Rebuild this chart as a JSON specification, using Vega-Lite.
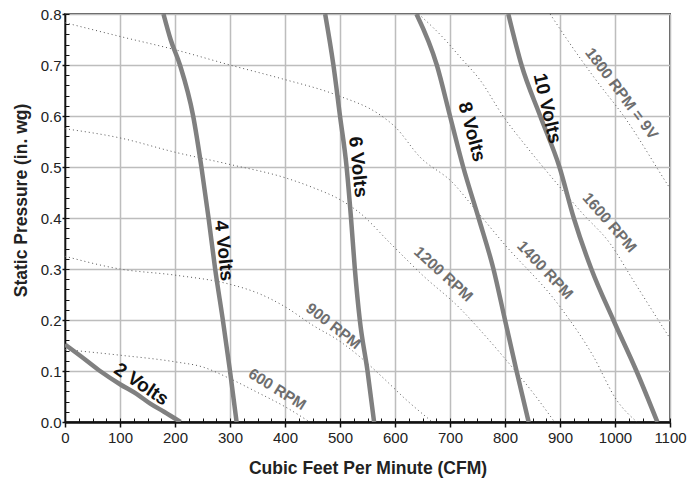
{
  "$schema": "https://vega.github.io/schema/vega-lite/v6.json",
  "width": 605,
  "height": 408,
  "autosize": {"type": "none"},
  "padding": {"left": 65, "top": 14, "right": 29, "bottom": 57},
  "background": "white",
  "config": {"view": {"stroke": "#555555", "strokeWidth": 2}, "font": "Liberation Sans"},
  "datasets": {
    "curves": [
      {"series": "2V", "kind": "volts", "x": 0, "y": 0.152},
      {"series": "2V", "kind": "volts", "x": 30, "y": 0.128},
      {"series": "2V", "kind": "volts", "x": 65, "y": 0.099},
      {"series": "2V", "kind": "volts", "x": 100, "y": 0.074},
      {"series": "2V", "kind": "volts", "x": 130, "y": 0.055},
      {"series": "2V", "kind": "volts", "x": 155, "y": 0.036},
      {"series": "2V", "kind": "volts", "x": 180, "y": 0.02},
      {"series": "2V", "kind": "volts", "x": 210, "y": 0},
      {"series": "4V", "kind": "volts", "x": 179, "y": 0.8},
      {"series": "4V", "kind": "volts", "x": 192, "y": 0.75},
      {"series": "4V", "kind": "volts", "x": 209, "y": 0.7},
      {"series": "4V", "kind": "volts", "x": 233, "y": 0.6},
      {"series": "4V", "kind": "volts", "x": 248, "y": 0.5},
      {"series": "4V", "kind": "volts", "x": 261, "y": 0.4},
      {"series": "4V", "kind": "volts", "x": 273, "y": 0.3},
      {"series": "4V", "kind": "volts", "x": 287, "y": 0.2},
      {"series": "4V", "kind": "volts", "x": 300, "y": 0.1},
      {"series": "4V", "kind": "volts", "x": 312, "y": 0},
      {"series": "6V", "kind": "volts", "x": 473, "y": 0.8},
      {"series": "6V", "kind": "volts", "x": 488, "y": 0.7},
      {"series": "6V", "kind": "volts", "x": 500, "y": 0.6},
      {"series": "6V", "kind": "volts", "x": 512, "y": 0.5},
      {"series": "6V", "kind": "volts", "x": 520, "y": 0.4},
      {"series": "6V", "kind": "volts", "x": 527, "y": 0.3},
      {"series": "6V", "kind": "volts", "x": 536, "y": 0.2},
      {"series": "6V", "kind": "volts", "x": 550, "y": 0.1},
      {"series": "6V", "kind": "volts", "x": 562, "y": 0},
      {"series": "8V", "kind": "volts", "x": 639, "y": 0.8},
      {"series": "8V", "kind": "volts", "x": 676, "y": 0.7},
      {"series": "8V", "kind": "volts", "x": 700, "y": 0.6},
      {"series": "8V", "kind": "volts", "x": 724, "y": 0.5},
      {"series": "8V", "kind": "volts", "x": 752, "y": 0.4},
      {"series": "8V", "kind": "volts", "x": 779, "y": 0.3},
      {"series": "8V", "kind": "volts", "x": 800, "y": 0.2},
      {"series": "8V", "kind": "volts", "x": 821, "y": 0.1},
      {"series": "8V", "kind": "volts", "x": 843, "y": 0},
      {"series": "10V", "kind": "volts", "x": 806, "y": 0.8},
      {"series": "10V", "kind": "volts", "x": 830, "y": 0.7},
      {"series": "10V", "kind": "volts", "x": 864, "y": 0.6},
      {"series": "10V", "kind": "volts", "x": 899, "y": 0.5},
      {"series": "10V", "kind": "volts", "x": 925, "y": 0.4},
      {"series": "10V", "kind": "volts", "x": 957, "y": 0.3},
      {"series": "10V", "kind": "volts", "x": 997, "y": 0.2},
      {"series": "10V", "kind": "volts", "x": 1039, "y": 0.1},
      {"series": "10V", "kind": "volts", "x": 1077, "y": 0},
      {"series": "600", "kind": "rpm", "x": 0, "y": 0.142},
      {"series": "600", "kind": "rpm", "x": 100, "y": 0.131},
      {"series": "600", "kind": "rpm", "x": 200, "y": 0.118},
      {"series": "600", "kind": "rpm", "x": 250, "y": 0.108},
      {"series": "600", "kind": "rpm", "x": 300, "y": 0.085},
      {"series": "600", "kind": "rpm", "x": 350, "y": 0.058},
      {"series": "600", "kind": "rpm", "x": 400, "y": 0.03},
      {"series": "600", "kind": "rpm", "x": 445, "y": 0},
      {"series": "900", "kind": "rpm", "x": 0, "y": 0.325},
      {"series": "900", "kind": "rpm", "x": 100, "y": 0.3},
      {"series": "900", "kind": "rpm", "x": 200, "y": 0.288},
      {"series": "900", "kind": "rpm", "x": 300, "y": 0.27},
      {"series": "900", "kind": "rpm", "x": 350, "y": 0.253},
      {"series": "900", "kind": "rpm", "x": 400, "y": 0.226},
      {"series": "900", "kind": "rpm", "x": 450, "y": 0.19},
      {"series": "900", "kind": "rpm", "x": 500, "y": 0.158},
      {"series": "900", "kind": "rpm", "x": 536, "y": 0.128},
      {"series": "900", "kind": "rpm", "x": 580, "y": 0.085},
      {"series": "900", "kind": "rpm", "x": 621, "y": 0.043},
      {"series": "900", "kind": "rpm", "x": 668, "y": 0},
      {"series": "1200", "kind": "rpm", "x": 0, "y": 0.575},
      {"series": "1200", "kind": "rpm", "x": 100, "y": 0.557},
      {"series": "1200", "kind": "rpm", "x": 200, "y": 0.529},
      {"series": "1200", "kind": "rpm", "x": 300, "y": 0.505},
      {"series": "1200", "kind": "rpm", "x": 400, "y": 0.479},
      {"series": "1200", "kind": "rpm", "x": 450, "y": 0.46},
      {"series": "1200", "kind": "rpm", "x": 500, "y": 0.436},
      {"series": "1200", "kind": "rpm", "x": 536, "y": 0.41},
      {"series": "1200", "kind": "rpm", "x": 591, "y": 0.351},
      {"series": "1200", "kind": "rpm", "x": 650, "y": 0.288},
      {"series": "1200", "kind": "rpm", "x": 718, "y": 0.223},
      {"series": "1200", "kind": "rpm", "x": 755, "y": 0.18},
      {"series": "1200", "kind": "rpm", "x": 797, "y": 0.128},
      {"series": "1200", "kind": "rpm", "x": 861, "y": 0.043},
      {"series": "1200", "kind": "rpm", "x": 890, "y": 0},
      {"series": "1400", "kind": "rpm", "x": 0, "y": 0.783},
      {"series": "1400", "kind": "rpm", "x": 100, "y": 0.756},
      {"series": "1400", "kind": "rpm", "x": 200, "y": 0.73},
      {"series": "1400", "kind": "rpm", "x": 300, "y": 0.7},
      {"series": "1400", "kind": "rpm", "x": 391, "y": 0.674},
      {"series": "1400", "kind": "rpm", "x": 494, "y": 0.641},
      {"series": "1400", "kind": "rpm", "x": 573, "y": 0.602},
      {"series": "1400", "kind": "rpm", "x": 600, "y": 0.579},
      {"series": "1400", "kind": "rpm", "x": 645, "y": 0.52},
      {"series": "1400", "kind": "rpm", "x": 706, "y": 0.468},
      {"series": "1400", "kind": "rpm", "x": 736, "y": 0.43},
      {"series": "1400", "kind": "rpm", "x": 797, "y": 0.351},
      {"series": "1400", "kind": "rpm", "x": 900, "y": 0.226},
      {"series": "1400", "kind": "rpm", "x": 960, "y": 0.13},
      {"series": "1400", "kind": "rpm", "x": 1003, "y": 0.043},
      {"series": "1400", "kind": "rpm", "x": 1040, "y": 0},
      {"series": "1600", "kind": "rpm", "x": 643, "y": 0.8},
      {"series": "1600", "kind": "rpm", "x": 694, "y": 0.746},
      {"series": "1600", "kind": "rpm", "x": 718, "y": 0.716},
      {"series": "1600", "kind": "rpm", "x": 755, "y": 0.67},
      {"series": "1600", "kind": "rpm", "x": 797, "y": 0.599},
      {"series": "1600", "kind": "rpm", "x": 839, "y": 0.54},
      {"series": "1600", "kind": "rpm", "x": 894, "y": 0.468},
      {"series": "1600", "kind": "rpm", "x": 940, "y": 0.41},
      {"series": "1600", "kind": "rpm", "x": 991, "y": 0.35},
      {"series": "1600", "kind": "rpm", "x": 1033, "y": 0.278},
      {"series": "1600", "kind": "rpm", "x": 1094, "y": 0.174},
      {"series": "1600", "kind": "rpm", "x": 1100, "y": 0.164},
      {"series": "1800", "kind": "rpm", "x": 882, "y": 0.8},
      {"series": "1800", "kind": "rpm", "x": 918, "y": 0.742},
      {"series": "1800", "kind": "rpm", "x": 961, "y": 0.677},
      {"series": "1800", "kind": "rpm", "x": 1021, "y": 0.592},
      {"series": "1800", "kind": "rpm", "x": 1094, "y": 0.468},
      {"series": "1800", "kind": "rpm", "x": 1100, "y": 0.458}
    ],
    "labels": [
      {"label": "2 Volts", "kind": "volts", "x": 139, "y": 0.074},
      {"label": "4 Volts", "kind": "volts", "x": 289, "y": 0.336},
      {"label": "6 Volts", "kind": "volts", "x": 533, "y": 0.5},
      {"label": "8 Volts", "kind": "volts", "x": 740, "y": 0.569},
      {"label": "10 Volts", "kind": "volts", "x": 877, "y": 0.615},
      {"label": "600 RPM", "kind": "rpm", "x": 386, "y": 0.064},
      {"label": "900 RPM", "kind": "rpm", "x": 488, "y": 0.188},
      {"label": "1200 RPM", "kind": "rpm", "x": 688, "y": 0.29},
      {"label": "1400 RPM", "kind": "rpm", "x": 873, "y": 0.298},
      {"label": "1600 RPM", "kind": "rpm", "x": 990, "y": 0.391},
      {"label": "1800 RPM = 9V", "kind": "rpm", "x": 1012, "y": 0.644}
    ]
  },
  "resolve": {"axis": {"x": "independent", "y": "independent"}},
  "layer": [
    {
      "data": {"name": "curves"},
      "transform": [{"filter": "datum.kind == 'rpm'"}],
      "mark": {"type": "line", "color": "#555555", "strokeWidth": 1, "strokeDash": [1, 3], "interpolate": "monotone", "clip": true},
      "encoding": {
        "x": {"field": "x", "type": "quantitative", "scale": {"domain": [0, 1100], "nice": false},
          "axis": {"orient": "bottom", "values": [0, 100, 200, 300, 400, 500, 600, 700, 800, 900, 1000, 1100], "format": "d",
            "title": "Cubic Feet Per Minute (CFM)", "grid": true, "gridColor": "#bdbdbd", "gridWidth": 1.5, "gridOpacity": 1,
            "domainColor": "#111111", "domainWidth": 2.5, "tickColor": "#111111", "tickSize": 5, "tickWidth": 1.5,
            "labelFontSize": 15, "labelColor": "#222222", "labelPadding": 3, "labelFlush": false, "labelFont": "Liberation Sans",
            "titleFont": "Liberation Sans", "titleFontSize": 17.5, "titleFontWeight": "bold", "titleColor": "#222222", "titlePadding": 14}},
        "y": {"field": "y", "type": "quantitative", "scale": {"domain": [0, 0.8], "nice": false},
          "axis": {"orient": "left", "values": [0, 0.1, 0.2, 0.3, 0.4, 0.5, 0.6, 0.7, 0.8], "format": ".1f",
            "title": "Static Pressure (in. wg)", "grid": true, "gridColor": "#bdbdbd", "gridWidth": 1.5, "gridOpacity": 1,
            "domainColor": "#111111", "domainWidth": 1.5, "tickColor": "#111111", "tickSize": 3, "tickWidth": 1.5,
            "labelFontSize": 15, "labelColor": "#222222", "labelPadding": 1, "labelFlush": false, "labelFont": "Liberation Sans",
            "titleFont": "Liberation Sans", "titleFontSize": 17.5, "titleFontWeight": "bold", "titleColor": "#222222", "titlePadding": 10,
            "titleY": 186}},
        "detail": {"field": "series"}
      }
    },
    {
      "data": {"name": "curves"},
      "transform": [{"filter": "datum.kind == 'volts'"}],
      "mark": {"type": "line", "color": "#808080", "strokeWidth": 4.5, "interpolate": "monotone", "clip": true},
      "encoding": {
        "x": {"field": "x", "type": "quantitative", "scale": {"domain": [0, 1100], "nice": false},
          "axis": {"orient": "bottom", "values": [0, 25, 50, 75, 100, 125, 150, 175, 200, 225, 250, 275, 300, 325, 350, 375, 400, 425, 450, 475, 500, 525, 550, 575, 600, 625, 650, 675, 700, 725, 750, 775, 800, 825, 850, 875, 900, 925, 950, 975, 1000, 1025, 1050, 1075, 1100],
            "labels": false, "domain": false, "grid": false, "title": null, "tickColor": "#111111", "tickSize": -4, "tickWidth": 1}},
        "y": {"field": "y", "type": "quantitative", "scale": {"domain": [0, 0.8], "nice": false},
          "axis": {"orient": "left", "values": [0, 0.02, 0.04, 0.06, 0.08, 0.1, 0.12, 0.14, 0.16, 0.18, 0.2, 0.22, 0.24, 0.26, 0.28, 0.3, 0.32, 0.34, 0.36, 0.38, 0.4, 0.42, 0.44, 0.46, 0.48, 0.5, 0.52, 0.54, 0.56, 0.58, 0.6, 0.62, 0.64, 0.66, 0.68, 0.7, 0.72, 0.74, 0.76, 0.78, 0.8],
            "labels": false, "domain": false, "grid": false, "title": null, "tickColor": "#111111", "tickSize": -4, "tickWidth": 1}},
        "detail": {"field": "series"}
      }
    },
    {"data": {"name": "labels"}, "transform": [{"filter": "datum.label == '2 Volts'"}],
      "mark": {"type": "text", "angle": 34, "fontSize": 19, "fontWeight": "bold", "color": "#111111", "font": "Liberation Sans", "align": "center", "baseline": "middle"},
      "encoding": {"x": {"field": "x", "type": "quantitative", "axis": null}, "y": {"field": "y", "type": "quantitative", "axis": null}, "text": {"field": "label"}}},
    {"data": {"name": "labels"}, "transform": [{"filter": "datum.label == '4 Volts'"}],
      "mark": {"type": "text", "angle": 84, "fontSize": 19, "fontWeight": "bold", "color": "#111111", "font": "Liberation Sans", "align": "center", "baseline": "middle"},
      "encoding": {"x": {"field": "x", "type": "quantitative", "axis": null}, "y": {"field": "y", "type": "quantitative", "axis": null}, "text": {"field": "label"}}},
    {"data": {"name": "labels"}, "transform": [{"filter": "datum.label == '6 Volts'"}],
      "mark": {"type": "text", "angle": 84, "fontSize": 19, "fontWeight": "bold", "color": "#111111", "font": "Liberation Sans", "align": "center", "baseline": "middle"},
      "encoding": {"x": {"field": "x", "type": "quantitative", "axis": null}, "y": {"field": "y", "type": "quantitative", "axis": null}, "text": {"field": "label"}}},
    {"data": {"name": "labels"}, "transform": [{"filter": "datum.label == '8 Volts'"}],
      "mark": {"type": "text", "angle": 75, "fontSize": 19, "fontWeight": "bold", "color": "#111111", "font": "Liberation Sans", "align": "center", "baseline": "middle"},
      "encoding": {"x": {"field": "x", "type": "quantitative", "axis": null}, "y": {"field": "y", "type": "quantitative", "axis": null}, "text": {"field": "label"}}},
    {"data": {"name": "labels"}, "transform": [{"filter": "datum.label == '10 Volts'"}],
      "mark": {"type": "text", "angle": 77, "fontSize": 19, "fontWeight": "bold", "color": "#111111", "font": "Liberation Sans", "align": "center", "baseline": "middle"},
      "encoding": {"x": {"field": "x", "type": "quantitative", "axis": null}, "y": {"field": "y", "type": "quantitative", "axis": null}, "text": {"field": "label"}}},
    {"data": {"name": "labels"}, "transform": [{"filter": "datum.label == '600 RPM'"}],
      "mark": {"type": "text", "angle": 32, "fontSize": 15.5, "fontWeight": "bold", "color": "#6e6e6e", "font": "Liberation Sans", "align": "center", "baseline": "middle"},
      "encoding": {"x": {"field": "x", "type": "quantitative", "axis": null}, "y": {"field": "y", "type": "quantitative", "axis": null}, "text": {"field": "label"}}},
    {"data": {"name": "labels"}, "transform": [{"filter": "datum.label == '900 RPM'"}],
      "mark": {"type": "text", "angle": 38, "fontSize": 15.5, "fontWeight": "bold", "color": "#6e6e6e", "font": "Liberation Sans", "align": "center", "baseline": "middle"},
      "encoding": {"x": {"field": "x", "type": "quantitative", "axis": null}, "y": {"field": "y", "type": "quantitative", "axis": null}, "text": {"field": "label"}}},
    {"data": {"name": "labels"}, "transform": [{"filter": "datum.label == '1200 RPM'"}],
      "mark": {"type": "text", "angle": 42.5, "fontSize": 15.5, "fontWeight": "bold", "color": "#6e6e6e", "font": "Liberation Sans", "align": "center", "baseline": "middle"},
      "encoding": {"x": {"field": "x", "type": "quantitative", "axis": null}, "y": {"field": "y", "type": "quantitative", "axis": null}, "text": {"field": "label"}}},
    {"data": {"name": "labels"}, "transform": [{"filter": "datum.label == '1400 RPM'"}],
      "mark": {"type": "text", "angle": 46.6, "fontSize": 15.5, "fontWeight": "bold", "color": "#6e6e6e", "font": "Liberation Sans", "align": "center", "baseline": "middle"},
      "encoding": {"x": {"field": "x", "type": "quantitative", "axis": null}, "y": {"field": "y", "type": "quantitative", "axis": null}, "text": {"field": "label"}}},
    {"data": {"name": "labels"}, "transform": [{"filter": "datum.label == '1600 RPM'"}],
      "mark": {"type": "text", "angle": 49, "fontSize": 15.5, "fontWeight": "bold", "color": "#6e6e6e", "font": "Liberation Sans", "align": "center", "baseline": "middle"},
      "encoding": {"x": {"field": "x", "type": "quantitative", "axis": null}, "y": {"field": "y", "type": "quantitative", "axis": null}, "text": {"field": "label"}}},
    {"data": {"name": "labels"}, "transform": [{"filter": "datum.label == '1800 RPM = 9V'"}],
      "mark": {"type": "text", "angle": 53, "fontSize": 15.5, "fontWeight": "bold", "color": "#6e6e6e", "font": "Liberation Sans", "align": "center", "baseline": "middle"},
      "encoding": {"x": {"field": "x", "type": "quantitative", "axis": null}, "y": {"field": "y", "type": "quantitative", "axis": null}, "text": {"field": "label"}}}
  ]
}
